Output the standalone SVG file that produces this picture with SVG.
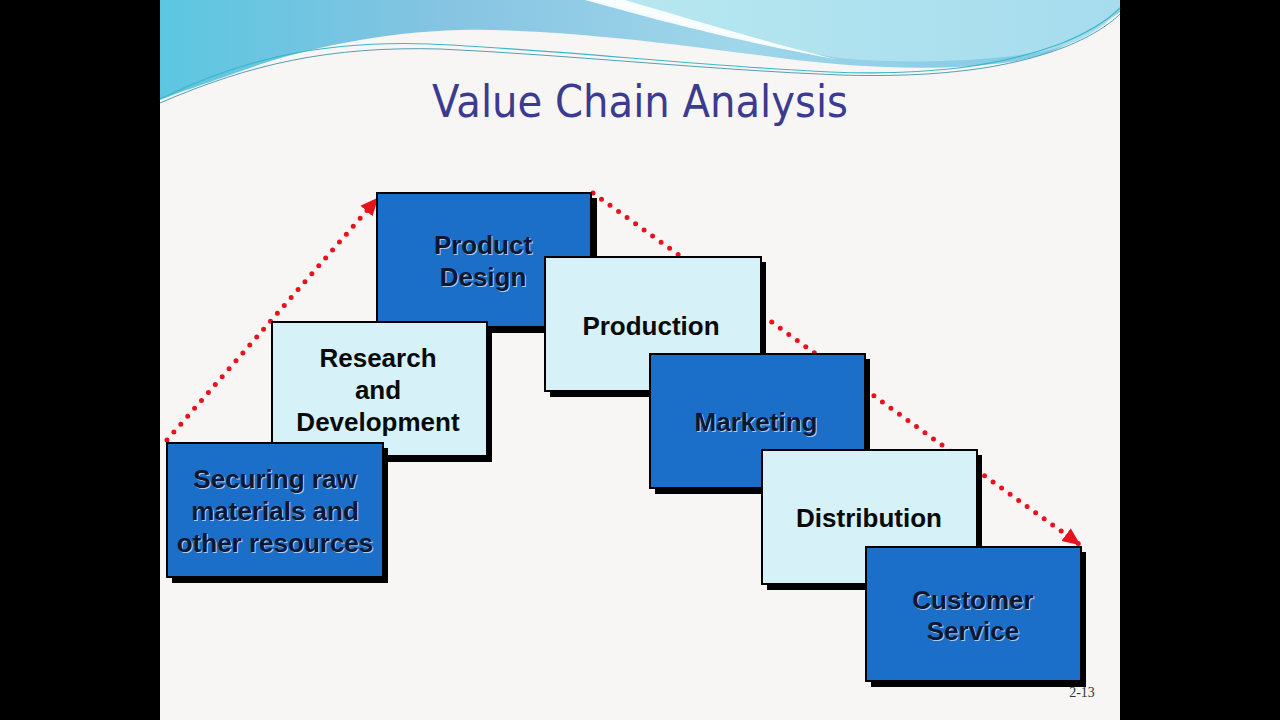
<svg xmlns="http://www.w3.org/2000/svg" width="1280" height="720" viewBox="0 0 1280 720">
<defs>
<linearGradient id="sky" x1="0" y1="0" x2="1" y2="0">
<stop offset="0" stop-color="#5cc6e0"/>
<stop offset="0.3" stop-color="#86c4e2"/>
<stop offset="0.6" stop-color="#9fd6ea"/>
<stop offset="1" stop-color="#7cc8e6"/>
</linearGradient>
<linearGradient id="sky2" x1="0" y1="0" x2="1" y2="0">
<stop offset="0" stop-color="#b8e8f0"/>
<stop offset="1" stop-color="#a6dcee"/>
</linearGradient>
<marker id="arrow" markerUnits="userSpaceOnUse" markerWidth="20" markerHeight="20" viewBox="0 0 20 20" refX="16" refY="10" orient="auto">
<path d="M0,2 L18,10 L0,18 Z" fill="#e8121c"/>
</marker>
<style>
.shadow{fill:#000}
.dark{fill:#1b6fc9;stroke:#000;stroke-width:2}
.light{fill:#d6f1f8;stroke:#000;stroke-width:2}
.lbl{font-family:"Liberation Sans",Arial,sans-serif;font-weight:bold;font-size:26px;text-anchor:middle}
.dtxt{fill:#0c1733}
.hl{fill:#c8dcf4;opacity:0.85}
.ltxt{fill:#0a0a0a}
.dots{fill:none;stroke:#e8121c;stroke-width:5;stroke-linecap:round;stroke-dasharray:0 10.5}
</style>
</defs>
<rect x="0" y="0" width="1280" height="720" fill="#000"/>
<rect x="160" y="0" width="960" height="720" fill="#f8f5f5"/>
<g id="background-waves">
<path d="M160,0 H1120 V12 C1095,30 1060,55 1010,62 C940,72 860,68 780,58 C690,46 560,28 460,30 C380,32 300,50 250,68 C210,82 180,92 160,100 Z" fill="url(#sky)"/>
<path d="M590,0 H1120 V10 C1100,30 1080,44 1040,52 C980,62 900,64 840,58 C760,46 680,20 590,0 Z" fill="url(#sky2)"/>
<path d="M585,0 C650,18 730,40 840,60 C780,46 700,22 625,0 Z" fill="#ffffff" opacity="0.9"/>
<path d="M160,99 C240,60 320,40 430,44 C560,50 700,66 830,72 C930,76 1000,66 1060,44 C1090,32 1110,18 1120,8" fill="none" stroke="#3ab8c8" stroke-width="1.2"/>
<path d="M160,103 C250,64 330,46 440,49 C570,55 710,70 840,75 C940,78 1010,68 1065,47 C1095,35 1112,22 1120,14" fill="none" stroke="#2a8aa0" stroke-width="0.8"/>
</g>
<text id="title" x="640" y="117" font-family="'DejaVu Sans',sans-serif" font-size="44" fill="#3b3b8f" text-anchor="middle" textLength="416" lengthAdjust="spacingAndGlyphs">Value Chain Analysis</text>
<g id="connectors">
<path class="dots" d="M167,440 L377,199" marker-end="url(#arrow)"/>
<path class="dots" d="M593,193 L1079,544" marker-end="url(#arrow)"/>
</g>
<g id="product-design">
<rect class="shadow" x="382" y="198" width="215" height="135"/>
<rect class="dark" x="377" y="193" width="214" height="134"/>
<text class="lbl hl" x="484" y="255">Product</text>
<text class="lbl hl" x="484" y="287">Design</text>
<text class="lbl dtxt" x="483" y="254">Product</text>
<text class="lbl dtxt" x="483" y="286">Design</text>
</g>
<g id="research-development">
<rect class="shadow" x="277" y="327" width="215" height="135"/>
<rect class="light" x="272" y="322" width="215" height="134"/>
<text class="lbl ltxt" x="378" y="367">Research</text>
<text class="lbl ltxt" x="378" y="399">and</text>
<text class="lbl ltxt" x="378" y="431">Development</text>
</g>
<g id="securing-raw-materials">
<rect class="shadow" x="172" y="448" width="216" height="135"/>
<rect class="dark" x="167" y="443" width="216" height="134"/>
<text class="lbl hl" x="276" y="489">Securing raw</text>
<text class="lbl hl" x="276" y="521">materials and</text>
<text class="lbl hl" x="276" y="553">other resources</text>
<text class="lbl dtxt" x="275" y="488">Securing raw</text>
<text class="lbl dtxt" x="275" y="520">materials and</text>
<text class="lbl dtxt" x="275" y="552">other resources</text>
</g>
<g id="production">
<rect class="shadow" x="550" y="262" width="216" height="135"/>
<rect class="light" x="545" y="257" width="216" height="134"/>
<text class="lbl ltxt" x="651" y="335">Production</text>
</g>
<g id="marketing">
<rect class="shadow" x="655" y="359" width="215" height="135"/>
<rect class="dark" x="650" y="354" width="215" height="134"/>
<text class="lbl hl" x="757" y="432">Marketing</text>
<text class="lbl dtxt" x="756" y="431">Marketing</text>
</g>
<g id="distribution">
<rect class="shadow" x="767" y="455" width="215" height="135"/>
<rect class="light" x="762" y="450" width="215" height="134"/>
<text class="lbl ltxt" x="869" y="527">Distribution</text>
</g>
<g id="customer-service">
<rect class="shadow" x="871" y="552" width="215" height="135"/>
<rect class="dark" x="866" y="547" width="215" height="134"/>
<text class="lbl hl" x="974" y="610">Customer</text>
<text class="lbl hl" x="974" y="641">Service</text>
<text class="lbl dtxt" x="973" y="609">Customer</text>
<text class="lbl dtxt" x="973" y="640">Service</text>
</g>
<text id="page-number" x="1082" y="697" font-family="'Liberation Serif',serif" font-size="14" fill="#333" text-anchor="middle">2-13</text>
</svg>
